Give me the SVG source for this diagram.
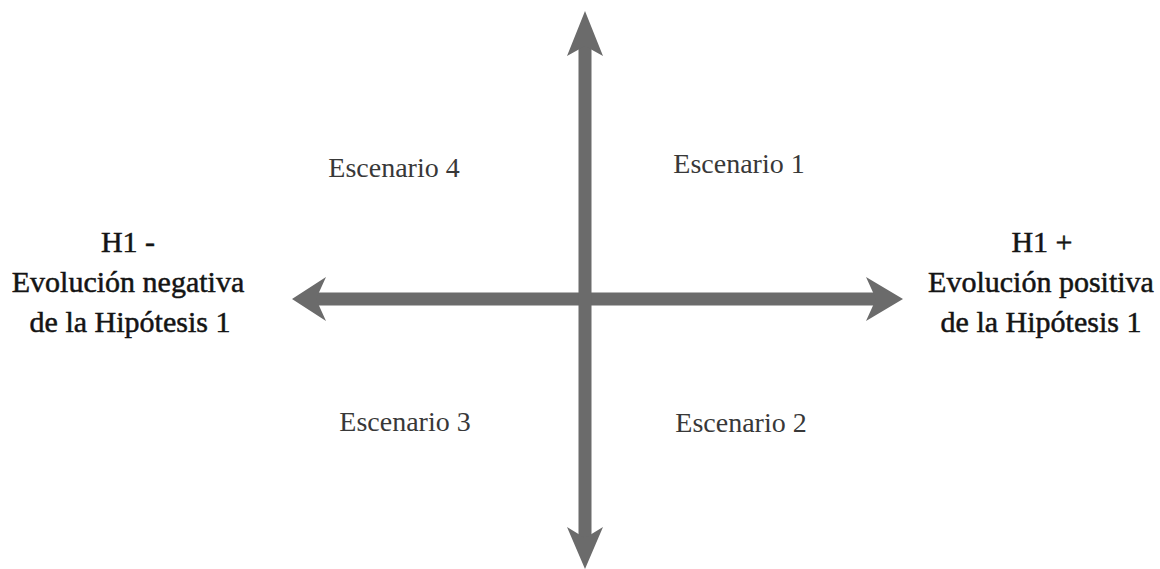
<svg xmlns="http://www.w3.org/2000/svg" width="1160" height="569" viewBox="0 0 1160 569">
<style>
.ax{fill:#6b6b6b;}
.sh{stroke:#6b6b6b;stroke-width:13;fill:none;}
.t{font-family:"Liberation Serif","DejaVu Serif",serif;text-anchor:middle;}
.sc{font-size:28px;fill:#383838;}
.lb{font-size:30px;fill:#141414;stroke:#141414;stroke-width:0.5;}
</style>
<rect width="1160" height="569" fill="#ffffff"/>
<g id="connectors">
<line class="sh" x1="310" y1="299" x2="885" y2="299"/>
<line class="sh" x1="585" y1="40" x2="585" y2="545"/>
<path class="ax" d="M292,299 L326,277 L316,299 L326,321 Z"/>
<path class="ax" d="M903,299 L866,277 L876,299 L866,321 Z"/>
<path class="ax" d="M585,11 L603,56 L585,46 L567,56 Z"/>
<path class="ax" d="M585,569 L603,527 L585,538 L567,527 Z"/>
</g>
<g id="scenario4"><text class="t sc" x="394" y="177">Escenario 4</text></g>
<g id="scenario1"><text class="t sc" x="739" y="173">Escenario 1</text></g>
<g id="scenario3"><text class="t sc" x="405" y="431">Escenario 3</text></g>
<g id="scenario2"><text class="t sc" x="741" y="432">Escenario 2</text></g>
<g id="h1neg">
<text class="t lb" x="128" y="252">H1 -</text>
<text class="t lb" x="128" y="292">Evolución negativa</text>
<text class="t lb" x="130" y="332">de la Hipótesis 1</text>
</g>
<g id="h1pos">
<text class="t lb" x="1042" y="252">H1 +</text>
<text class="t lb" x="1041" y="292">Evolución positiva</text>
<text class="t lb" x="1041" y="332">de la Hipótesis 1</text>
</g>
</svg>
